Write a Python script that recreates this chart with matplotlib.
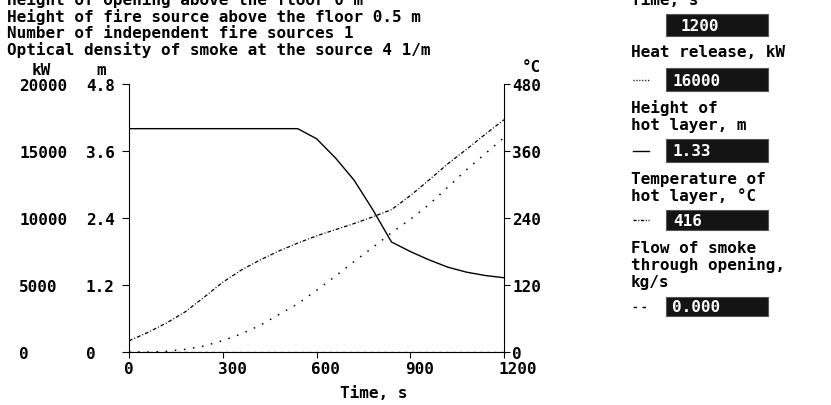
import matplotlib
matplotlib.use("Agg")
import matplotlib.pyplot as plt
from matplotlib.lines import Line2D
from matplotlib.patches import Rectangle
from matplotlib.transforms import ScaledTranslation

plt.rcParams['font.family'] = ['DejaVu Sans Mono']
plt.rcParams['font.weight'] = 'bold'
plt.rcParams['font.size'] = 11.5

# time history of the fire run, every 60 s
time_s = [0, 60, 120, 180, 240, 300, 360, 420, 480, 540, 600,
          660, 720, 780, 840, 900, 960, 1020, 1080, 1140, 1200]
heat_kw = [0, 0, 50, 200, 450, 850, 1350, 2000, 2800, 3600, 4600,
           5650, 6750, 7800, 8900, 9900, 11000, 12300, 13600, 14800, 16000]
layer_height_m = [4.0, 4.0, 4.0, 4.0, 4.0, 4.0, 4.0, 4.0, 4.0, 4.0, 3.82,
                  3.48, 3.08, 2.55, 1.97, 1.80, 1.65, 1.52, 1.43, 1.37, 1.33]
layer_temp_c = [20, 35, 52, 72, 98, 125, 147, 165, 181, 195, 208,
                219, 230, 242, 255, 280, 308, 337, 363, 390, 416]
flow_time_s = [0, 1200]
smoke_flow_kgs = [0.0, 0.0]

header_lines = ["Height of opening above the floor 0 m",
                "Height of fire source above the floor 0.5 m",
                "Number of independent fire sources 1",
                "Optical density of smoke at the source 4 1/m"]

x_ticks = [0, 300, 600, 900, 1200]
m_ticks = [0, 1.2, 2.4, 3.6, 4.8]
kw_ticks = [0, 5000, 10000, 15000, 20000]
c_ticks = [0, 120, 240, 360, 480]

W, H = 831, 406
fig = plt.figure(figsize=(W / 100, H / 100), dpi=100)


def fx(px):
    return px / W


def fy(py):
    return 1 - py / H


# main axes: hot layer height in m
ax = fig.add_axes([fx(129), fy(353), fx(504) - fx(129), fy(85) - fy(353)])
ax.set_xlim(0, 1200)
ax.set_ylim(0, 4.8)
ax.set_xticks(x_ticks)
ax.set_xticklabels([str(v) for v in x_ticks])
ax.set_yticks(m_ticks)
ax.set_yticklabels(["0", "1.2", "2.4", "3.6", "4.8"])
ax.tick_params(axis='x', direction='out', length=4, width=0.8, pad=2.5)
ax.tick_params(axis='y', direction='out', length=5, width=0.8, pad=26)
for lab in ax.get_yticklabels():
    lab.set_horizontalalignment('left')
# time labels start just left of their tick
for lab in ax.get_xticklabels():
    lab.set_horizontalalignment('left')
    lab.set_transform(lab.get_transform() + ScaledTranslation(-0.05, 0, fig.dpi_scale_trans))
for s in ['top', 'right']:
    ax.spines[s].set_visible(False)
for s in ['left', 'bottom']:
    ax.spines[s].set_linewidth(0.8)

# heat release in kW, labelled on the far left
ax_kw = ax.twinx()
ax_kw.set_ylim(0, 20000)
ax_kw.yaxis.set_ticks_position('left')
ax_kw.set_yticks(kw_ticks)
ax_kw.set_yticklabels([str(v) for v in kw_ticks])
ax_kw.tick_params(axis='y', length=0, pad=79)
for lab in ax_kw.get_yticklabels():
    lab.set_horizontalalignment('left')
for s in ax_kw.spines.values():
    s.set_visible(False)

# hot layer temperature in C on the right
ax_c = ax.twinx()
ax_c.set_ylim(0, 480)
ax_c.set_yticks(c_ticks)
ax_c.set_yticklabels([str(v) for v in c_ticks])
ax_c.tick_params(axis='y', direction='out', length=4.3, width=0.8, pad=1.5)
for s in ['top', 'left', 'bottom']:
    ax_c.spines[s].set_visible(False)
ax_c.spines['right'].set_linewidth(0.8)

dotted = (0, (1, 5))
dashdot = (0, (3, 1.6, 0.8, 1.6))
dashed = (0, (2.5, 3))

ax.plot(flow_time_s, smoke_flow_kgs, color='black', lw=0.9, ls=dashed)
ax.plot(time_s, layer_height_m, color='black', lw=1.0)
ax_kw.plot(time_s, heat_kw, color='black', lw=1.1, ls=dotted)
ax_c.plot(time_s, layer_temp_c, color='black', lw=0.9, ls=dashdot)

fig.text(fx(340), fy(398), "Time, s", ha='left', va='baseline')

# header text block
for i, line in enumerate(header_lines):
    fig.text(fx(7), fy(5 + 16.7 * i), line, ha='left', va='baseline')

fig.text(fx(32), fy(75), "kW", ha='left', va='baseline')
fig.text(fx(96), fy(75), "m", ha='left', va='baseline')
fig.text(fx(541), fy(72), "°C", ha='right', va='baseline')

# current-value panel on the right
panel_labels = [(5, "Time, s"),
                (57, "Heat release, kW"),
                (113, "Height of"), (130, "hot layer, m"),
                (184, "Temperature of"), (201, "hot layer, °C"),
                (253, "Flow of smoke"), (270, "through opening,"), (287, "kg/s")]
for yb, txt in panel_labels:
    fig.text(fx(631), fy(yb), txt, ha='left', va='baseline')

sample_dotted = (0, (0.8, 1.3))
sample_dashdot = (0, (2.2, 1.2, 0.8, 1.2))
sample_dashed = (0, (2.5, 4))
boxes = [(15, 37, f"{time_s[-1]}", None, 680),
         (69, 92, f"{heat_kw[-1]}", sample_dotted, 672),
         (140, 163, f"{layer_height_m[-1]:.2f}", '-', 672),
         (211, 231, f"{layer_temp_c[-1]}", sample_dashdot, 673),
         (298, 317, f"{smoke_flow_kgs[-1]:.3f}", sample_dashed, 672)]
for top, bot, txt, style, tx in boxes:
    fig.add_artist(Rectangle((fx(666), fy(bot)), fx(768) - fx(666), fy(top) - fy(bot),
                             transform=fig.transFigure, facecolor='#141414',
                             edgecolor='#555555', lw=0.8))
    fig.text(fx(tx), fy((top + bot) / 2 + 5), txt, color='white',
             ha='left', va='baseline')
    if style is not None:
        yc = fy((top + bot) / 2)
        fig.add_artist(Line2D([fx(633), fx(649)], [yc, yc], transform=fig.transFigure,
                              color='black', lw=1.0, ls=style))

fig.savefig("out.png", dpi=100, facecolor='white')
